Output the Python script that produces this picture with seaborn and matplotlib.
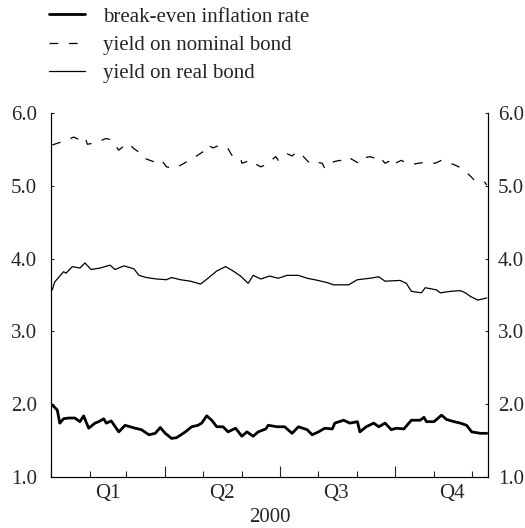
import numpy as np
import pandas as pd
import matplotlib
matplotlib.use("Agg")
import matplotlib.pyplot as plt
import matplotlib.dates as mdates
import seaborn as sns

# days counted from 1 Jan 2000, values in per cent
breakeven_day = [1, 5, 7, 10, 14, 19, 23, 26, 30, 35,
                 38, 42, 44, 48, 54, 59, 63, 67, 72, 78,
                 83, 87, 91, 96, 100, 107, 112, 117, 120, 124,
                 128, 132, 137, 141, 147, 152, 156, 161, 165, 171,
                 173, 180, 186, 192, 197, 204, 208, 213, 218, 224,
                 226, 233, 238, 244, 246, 251, 257, 261, 266, 271,
                 275, 281, 287, 294, 297, 299, 305, 311, 315, 321,
                 326, 331, 335, 342, 347]
breakeven_val = [1.99, 1.92, 1.74, 1.80, 1.81, 1.81, 1.76, 1.84, 1.67, 1.74,
                 1.76, 1.80, 1.74, 1.77, 1.62, 1.71, 1.69, 1.67, 1.65, 1.58,
                 1.60, 1.68, 1.60, 1.53, 1.54, 1.62, 1.69, 1.71, 1.74, 1.84,
                 1.78, 1.69, 1.69, 1.62, 1.67, 1.56, 1.62, 1.56, 1.62, 1.66,
                 1.71, 1.69, 1.69, 1.60, 1.69, 1.65, 1.58, 1.62, 1.67, 1.66,
                 1.74, 1.78, 1.74, 1.76, 1.62, 1.69, 1.74, 1.69, 1.74, 1.65,
                 1.67, 1.66, 1.78, 1.78, 1.82, 1.76, 1.76, 1.85, 1.79, 1.76,
                 1.74, 1.71, 1.62, 1.60, 1.60]

nominal_day = [1, 6, 11, 18, 23, 27, 29, 35, 44, 48,
               54, 59, 62, 66, 72, 74, 82, 84, 88, 92,
               98, 104, 113, 116, 123, 125, 129, 133, 137, 141,
               144, 151, 152, 159, 161, 167, 171, 179, 181, 188,
               192, 196, 200, 206, 209, 216, 218, 225, 230, 234,
               238, 245, 248, 254, 258, 261, 266, 272, 273, 279,
               283, 289, 297, 306, 311, 321, 326, 333, 337, 345,
               347]
nominal_val = [5.56, 5.59, 5.61, 5.67, 5.63, 5.67, 5.57, 5.59, 5.65, 5.63,
               5.49, 5.56, 5.58, 5.51, 5.44, 5.38, 5.33, 5.36, 5.35, 5.26,
               5.24, 5.29, 5.38, 5.41, 5.49, 5.56, 5.52, 5.55, 5.51, 5.51,
               5.42, 5.38, 5.31, 5.35, 5.32, 5.26, 5.29, 5.40, 5.35, 5.44,
               5.41, 5.47, 5.42, 5.31, 5.33, 5.31, 5.24, 5.33, 5.35, 5.33,
               5.38, 5.31, 5.38, 5.40, 5.38, 5.41, 5.31, 5.36, 5.30, 5.35,
               5.31, 5.30, 5.32, 5.31, 5.35, 5.29, 5.25, 5.15, 5.08, 5.06,
               5.01]

real_day = [1, 3, 10, 12, 17, 23, 27, 32, 39, 47,
            51, 58, 66, 70, 76, 84, 92, 96, 103, 111,
            119, 125, 132, 139, 145, 151, 157, 161, 167, 174,
            181, 188, 197, 204, 210, 220, 225, 237, 244, 254,
            261, 266, 278, 283, 287, 295, 298, 307, 310, 318,
            326, 330, 334, 340, 347]
real_val = [3.57, 3.68, 3.82, 3.80, 3.89, 3.87, 3.94, 3.85, 3.87, 3.91,
            3.85, 3.90, 3.86, 3.77, 3.74, 3.72, 3.71, 3.74, 3.71, 3.69,
            3.65, 3.73, 3.83, 3.89, 3.83, 3.76, 3.66, 3.77, 3.72, 3.76,
            3.73, 3.77, 3.77, 3.73, 3.71, 3.67, 3.64, 3.64, 3.71, 3.73,
            3.75, 3.69, 3.70, 3.66, 3.55, 3.53, 3.60, 3.57, 3.53, 3.55,
            3.56, 3.53, 3.48, 3.43, 3.46]

quarter_labels = ['Q1', 'Q2', 'Q3', 'Q4']
quarter_mid = ['2000-02-15', '2000-05-16', '2000-08-15', '2000-11-15']
y_ticks = [1.0, 2.0, 3.0, 4.0, 5.0, 6.0]

base = pd.Timestamp('2000-01-01')


def to_frame(days, vals):
    return pd.DataFrame({'date': base + pd.to_timedelta(days, unit='D'), 'value': vals})


sns.set_style('ticks')
plt.rcParams['font.family'] = ['Liberation Serif', 'DejaVu Serif']
plt.rcParams['font.size'] = 15

fig = plt.figure(figsize=(5.25, 5.28), dpi=100)
ax = fig.add_axes([51 / 525, 1 - 477 / 528, 437 / 525, 364 / 528])

sns.lineplot(data=to_frame(breakeven_day, breakeven_val), x='date', y='value', ax=ax,
             color='black', linewidth=2.0, label='break-even inflation rate', legend=False)
sns.lineplot(data=to_frame(nominal_day, nominal_val), x='date', y='value', ax=ax,
             color='black', linewidth=0.9, linestyle=(0, (7, 8.5)),
             label='yield on nominal bond', legend=False)
sns.lineplot(data=to_frame(real_day, real_val), x='date', y='value', ax=ax,
             color='black', linewidth=0.9, label='yield on real bond', legend=False)
if ax.get_legend() is not None:
    ax.get_legend().remove()

ax.set_xlim(base, pd.Timestamp('2000-12-14'))
ax.set_ylim(1.0, 6.0)
ax.set_yticks(y_ticks)
ax.set_yticklabels(['%.1f' % v for v in y_ticks])
ax.set_ylabel('')

# right hand scale, same range
ax2 = ax.twinx()
ax2.set_ylim(1.0, 6.0)
ax2.set_yticks(y_ticks)
ax2.set_yticklabels(['%.1f' % v for v in y_ticks])
ax2.grid(False)

ax.xaxis.set_major_locator(mdates.MonthLocator(bymonth=[1, 4, 7, 10]))
ax.xaxis.set_minor_locator(mdates.MonthLocator())
ax.xaxis.set_major_formatter(plt.NullFormatter())
ax.tick_params(axis='x', which='major', direction='in', length=8, width=0.8)
ax.tick_params(axis='x', which='minor', direction='in', length=4.3, width=0.8)
ax.tick_params(axis='y', direction='in', length=2.2, width=0.8, pad=10, right=False)
ax2.tick_params(axis='y', direction='in', length=2.2, width=0.8, pad=7)

for txt, d in zip(quarter_labels, quarter_mid):
    ax.text(mdates.date2num(pd.Timestamp(d)), -0.02, txt, transform=ax.get_xaxis_transform(),
            ha='center', va='top')
ax.set_xlabel('2000', labelpad=19)

for a in [ax, ax2]:
    a.spines['top'].set_visible(False)
    for s in ['left', 'right', 'bottom']:
        a.spines[s].set_linewidth(0.8)
        a.spines[s].set_color('black')

handles, labels = ax.get_legend_handles_labels()
fig.legend(handles, labels, loc='upper left', bbox_to_anchor=(49 / 525, 1 - 7 / 528),
           frameon=False, borderpad=0, borderaxespad=0, handlelength=1.75,
           handletextpad=0.85, labelspacing=0.42)

fig.savefig('out.png', dpi=100)
